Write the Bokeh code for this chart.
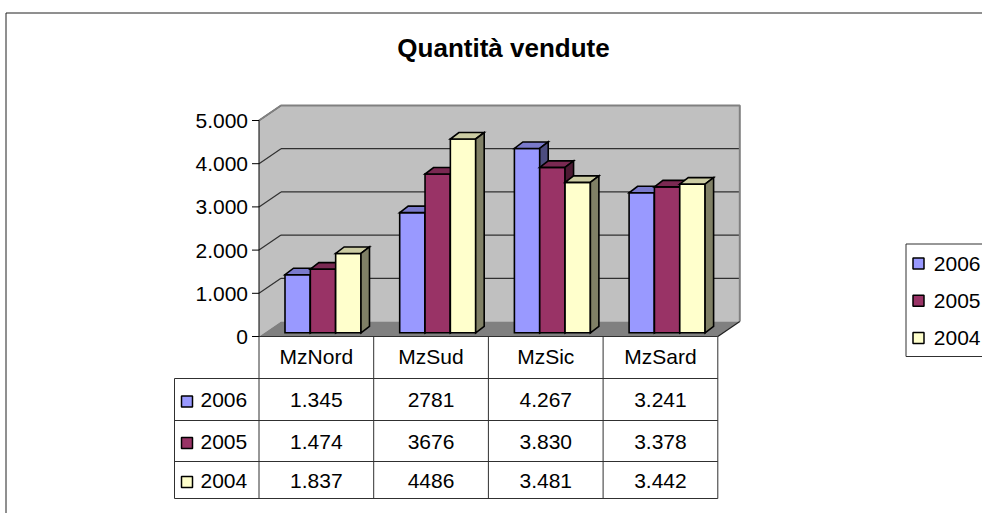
from bokeh.plotting import figure
from bokeh.models import Range1d
from bokeh.embed import file_html
from bokeh.resources import INLINE
from bokeh.core.properties import value

# ---------------- data ----------------
title = "Quantità vendute"
categories = ["MzNord", "MzSud", "MzSic", "MzSard"]
series = ["2006", "2005", "2004"]
v2006 = [1345, 2781, 4267, 3241]
v2005 = [1474, 3676, 3830, 3378]
v2004 = [1837, 4486, 3481, 3442]
table_2006 = ["1.345", "2781", "4.267", "3.241"]
table_2005 = ["1.474", "3676", "3.830", "3.378"]
table_2004 = ["1.837", "4486", "3.481", "3.442"]
y_ticks = [0, 1000, 2000, 3000, 4000, 5000]
y_tick_labels = ["0", "1.000", "2.000", "3.000", "4.000", "5.000"]

values = [v2006, v2005, v2004]
table_rows = [table_2006, table_2005, table_2004]
colors = ["#9999FF", "#993366", "#FFFFCC"]
top_colors = ["#7A7ACC", "#7A2952", "#CCCCA3"]
side_colors = ["#4D4D80", "#4D1A33", "#808066"]

# ---------------- scales / layout ----------------
W, H = 982, 513
PAGE = 0
PX_PER_CAT = 114.7      # pixels per category
PX_PER_VAL = 0.0432     # pixels per value unit
ORIGIN_X = 258.5        # window px of category axis start
ORIGIN_Y = 336.0        # window px of value 0
TS = 7.0                # baseline correction for text (px)


def xd(px):
    return (px - ORIGIN_X) / PX_PER_CAT


def yd(py):
    return (ORIGIN_Y - py) / PX_PER_VAL


def wdx(px):
    return px / PX_PER_CAT


def wdy(px):
    return px / PX_PER_VAL


FONT = value("Liberation Sans")
FS = "21px"

p = figure(width=W, height=H, output_backend="svg", toolbar_location=None,
           x_range=Range1d(xd(PAGE), xd(PAGE + W)),
           y_range=Range1d(yd(PAGE + H), yd(PAGE)),
           x_axis_location=None, y_axis_location=None,
           min_border=0, outline_line_color=None, title=None)
p.xgrid.visible = False
p.ygrid.visible = False
p.background_fill_color = "white"
p.border_fill_color = "white"

ncat = len(categories)
ymax = y_ticks[-1]
DX, DY = wdx(22), wdy(15)

# outer chart border (left + top visible)
p.line([xd(5.5), xd(5.5), xd(1000)], [yd(530), yd(12.5), yd(12.5)],
       line_color="#202020", line_width=1)

# title
p.text(x=[xd(503)], y=[yd(54.7 - TS - 0.5)], text=[title], text_font=FONT, text_font_size="26px",
       text_font_style="bold", text_align="center", text_baseline="alphabetic", text_color="black")

# walls and floor
p.patch([0, DX, DX, 0], [0, DY, ymax + DY, ymax], fill_color="#C0C0C0", line_color=None)
p.quad(left=DX, right=ncat + DX, bottom=DY, top=ymax + DY, fill_color="#C0C0C0", line_color=None)
p.patch([0, ncat, ncat + DX, DX], [0, 0, DY, DY], fill_color="#808080", line_color=None)

grid = y_ticks[1:]
p.segment(x0=[DX] * len(grid), y0=[t + DY for t in grid], x1=[ncat + DX] * len(grid),
          y1=[t + DY for t in grid], line_color="#303030", line_width=1.2)
p.segment(x0=[0] * len(grid), y0=grid, x1=[DX] * len(grid), y1=[t + DY for t in grid],
          line_color="#303030", line_width=1.2)
p.line([0, DX, ncat + DX, ncat + DX], [ymax, ymax + DY, ymax + DY, DY],
       line_color="#808080", line_width=2)
p.line([ncat, ncat + DX], [0, DY], line_color="#202020", line_width=1.2)

# value axis
p.line([0, 0], [0, ymax], line_color="black", line_width=1)
p.segment(x0=[wdx(-7)] * len(y_ticks), y0=y_ticks, x1=[0] * len(y_ticks), y1=y_ticks,
          line_color="black", line_width=1)
p.text(x=[wdx(-11)] * len(y_ticks), y=[t - wdy(7.5 - TS) for t in y_ticks], text=y_tick_labels,
       text_font=FONT, text_font_size=FS, text_align="right", text_baseline="alphabetic",
       text_color="black")

# 3D bars
BAR_OFF, BAR_W = wdx(26), wdx(25.33)
BDX, BDY = wdx(8.5), wdy(6.5)
BASE = wdy(3.7)
for j, vals in enumerate(values):
    left = [k + BAR_OFF + j * BAR_W for k in range(ncat)]
    right = [l + BAR_W for l in left]
    top = [v + BASE for v in vals]
    p.quad(left=left, right=right, bottom=BASE, top=top, fill_color=colors[j],
           line_color="black", line_width=1.6, line_join="miter")
    p.patches(xs=[[l, r, r + BDX, l + BDX] for l, r in zip(left, right)],
              ys=[[t, t, t + BDY, t + BDY] for t in top],
              fill_color=top_colors[j], line_color="black", line_width=1.6, line_join="miter")
    p.patches(xs=[[r, r + BDX, r + BDX, r] for r in right],
              ys=[[BASE, BASE + BDY, t + BDY, t] for t in top],
              fill_color=side_colors[j], line_color="black", line_width=1.6, line_join="miter")

# data table
ROWS_PY = [336, 378, 420, 461, 498]
TABLE_LEFT = xd(174)
TL = "#303030"
hl = ROWS_PY[1:]
p.segment(x0=[TABLE_LEFT] * len(hl), y0=[yd(r) for r in hl], x1=[ncat] * len(hl),
          y1=[yd(r) for r in hl], line_color=TL, line_width=1)
p.line([0, ncat], [0, 0], line_color=TL, line_width=1)
p.segment(x0=list(range(ncat + 1)), y0=[yd(ROWS_PY[0])] * (ncat + 1), x1=list(range(ncat + 1)),
          y1=[yd(ROWS_PY[-1])] * (ncat + 1), line_color=TL, line_width=1)
p.line([TABLE_LEFT, TABLE_LEFT], [yd(ROWS_PY[1]), yd(ROWS_PY[-1])], line_color=TL, line_width=1)

p.text(x=[k + 0.5 for k in range(ncat)], y=[yd(363.3 - TS)] * ncat, text=categories,
       text_font=FONT, text_font_size=FS, text_align="center", text_baseline="alphabetic",
       text_color="black")

for i, name in enumerate(series):
    mid = (ROWS_PY[i + 1] + ROWS_PY[i + 2]) / 2
    p.scatter(x=[xd(186.5)], y=[yd(mid + 2.0)], marker="square", size=11,
              fill_color=colors[i], line_color="black", line_width=1.5)
    p.text(x=[xd(200)], y=[yd(mid + 7.8 - TS)], text=[name], text_font=FONT, text_font_size=FS,
           text_align="left", text_baseline="alphabetic", text_color="black")
    p.text(x=[k + 0.5 for k in range(ncat)], y=[yd(mid + 7.8 - TS)] * ncat, text=table_rows[i],
           text_font=FONT, text_font_size=FS, text_align="center", text_baseline="alphabetic",
           text_color="black")

# legend (right, cut off by the window)
p.quad(left=xd(905.5), right=xd(1010), top=yd(243.5), bottom=yd(356), fill_color="white",
       line_color="#303030", line_width=1)
for i, name in enumerate(series):
    cy = 263 + i * 37.3
    p.scatter(x=[xd(918)], y=[yd(cy)], marker="square", size=11, fill_color=colors[i],
              line_color="black", line_width=1.5)
    p.text(x=[xd(933.3)], y=[yd(cy + 7.3 - TS)], text=[name], text_font=FONT, text_font_size=FS,
           text_align="left", text_baseline="alphabetic", text_color="black")

open("out.html", "w").write(file_html(p, INLINE))
